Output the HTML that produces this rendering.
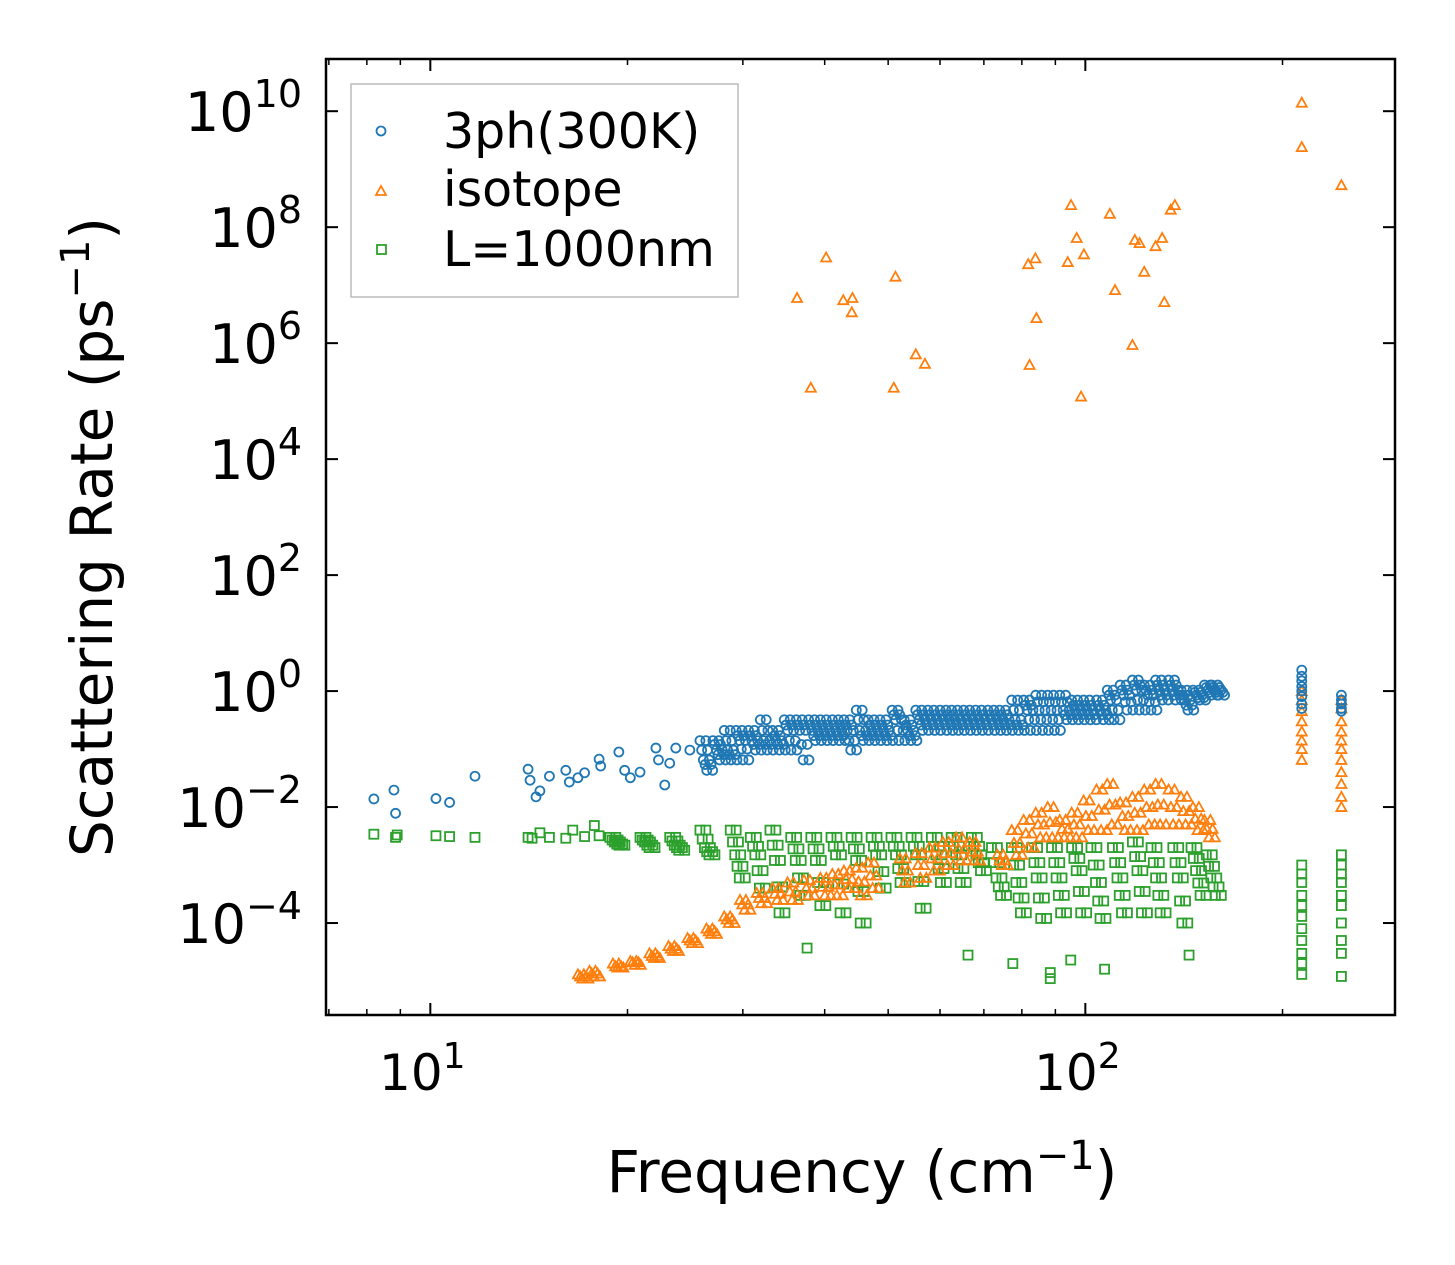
<!DOCTYPE html>
<html><head><meta charset="utf-8"><style>
body{margin:0;background:#fff;}
svg{display:block;font-family:"DejaVu Sans","Liberation Sans",sans-serif;}
</style></head><body>
<svg id="chart" width="1455" height="1265">
<g id="marks"></g>
<rect x="326" y="59" width="1069" height="956" fill="none" stroke="#000" stroke-width="2.5"/>
<g id="ticks"></g>
<text x="862" y="1192" font-size="58" text-anchor="middle">Frequency (cm<tspan dy="-23" font-size="40">−1</tspan><tspan dy="23">)</tspan></text>
<text transform="translate(112,537) rotate(-90)" font-size="58" text-anchor="middle">Scattering Rate (ps<tspan dy="-23" font-size="40">−1</tspan><tspan dy="23">)</tspan></text>
<g>
<rect x="351" y="84" width="387" height="213" fill="#fff" fill-opacity="0.8" stroke="#bbb" stroke-width="1.5"/>
<circle cx="381" cy="131" r="4.5" fill="none" stroke="#1f77b4" stroke-width="1.8"/>
<text x="443" y="148" font-size="49">3ph(300K)</text>
<path d="M376,195 L386,195 L381,186 Z" fill="none" stroke="#ff7f0e" stroke-width="1.8"/>
<text x="443" y="206" font-size="49">isotope</text>
<rect x="377" y="245" width="9" height="9" fill="none" stroke="#2ca02c" stroke-width="1.8"/>
<text x="443" y="266" font-size="49">L=1000nm</text>
</g>
</svg>
<script>
// ---- data ----
const blueSparseF=[8.2,8.8,8.85,10.2,10.7,11.7,14.1,14.2,14.5,14.7,15.2,16.1,16.3,16.8,17.2,18.1,18.2,19.4,19.8,20.2,20.9,22.1,22.3,22.8,23.2,23.7,24.9];
const blueSparseR=[0.0138,0.0196,0.0078,0.014,0.012,0.034,0.045,0.029,0.015,0.019,0.034,0.043,0.027,0.032,0.039,0.067,0.051,0.089,0.043,0.032,0.040,0.104,0.065,0.024,0.057,0.104,0.096];
const blueBandF=[25.8,27.0,28.1,29.3,30.6,31.9,33.3,34.7,36.2,37.8,39.4,41.1,42.8,44.7,46.6,48.6,50.7,52.9,55.1,57.5,60.0,62.5,65.2,68.0,71.0,74.0,77.2,80.5,84.0,87.6,91.4,95.3,99.4,104,108,113,118,123,128,134,140,146,152,156];
const blueTop=[0.14,0.14,0.21,0.21,0.21,0.32,0.21,0.32,0.32,0.32,0.32,0.32,0.32,0.47,0.32,0.32,0.47,0.32,0.47,0.47,0.47,0.47,0.47,0.47,0.47,0.47,0.70,0.70,0.85,0.85,0.85,0.70,0.70,0.70,1.04,1.27,1.55,1.27,1.55,1.55,1.04,1.04,1.27,1.27];
const blueQ1=[0.096,0.12,0.14,0.17,0.17,0.21,0.17,0.26,0.26,0.26,0.26,0.26,0.26,0.32,0.26,0.26,0.39,0.26,0.39,0.39,0.39,0.39,0.39,0.39,0.39,0.39,0.47,0.57,0.65,0.65,0.65,0.57,0.57,0.57,0.85,1.04,1.27,1.04,1.27,1.27,0.85,0.95,1.15,1.15];
const blueMid=[0.065,0.096,0.096,0.14,0.14,0.14,0.14,0.21,0.21,0.21,0.21,0.21,0.21,0.21,0.21,0.21,0.32,0.21,0.32,0.32,0.32,0.32,0.32,0.32,0.32,0.32,0.32,0.47,0.47,0.47,0.47,0.47,0.47,0.47,0.70,0.85,1.04,0.85,1.04,1.04,0.70,0.85,1.04,1.04];
const blueQ3=[0.054,0.08,0.08,0.10,0.12,0.12,0.12,0.14,0.12,0.17,0.17,0.17,0.14,0.17,0.17,0.17,0.21,0.17,0.26,0.26,0.26,0.26,0.26,0.26,0.26,0.26,0.26,0.32,0.32,0.32,0.39,0.39,0.39,0.39,0.47,0.65,0.70,0.65,0.85,0.85,0.57,0.77,0.95,0.95];
const blueBot=[0.043,0.065,0.065,0.065,0.096,0.096,0.096,0.096,0.065,0.14,0.14,0.14,0.096,0.14,0.14,0.14,0.14,0.14,0.21,0.21,0.21,0.21,0.21,0.21,0.21,0.21,0.21,0.21,0.21,0.21,0.32,0.32,0.32,0.32,0.32,0.47,0.47,0.47,0.70,0.70,0.47,0.70,0.85,0.85];
const blueC1F=214, blueC1R=[2.3,1.8,1.5,1.2,1.0,0.8,0.6,0.5];
const blueC2F=246, blueC2R=[0.85,0.7,0.6,0.5,0.45];

const orangeHighF=[36.3,38.1,40.2,42.7,44.1,44.0,51.3,51.0,55.1,56.9,81.8,83.9,82.2,84.2,94.0,95.1,97.0,99.5,98.5,109,111,118,119,121,123,128,131,132,135,137,214,214,246];
const orangeHighR=[6.0e6,1.7e5,3.0e7,5.5e6,6e6,3.4e6,1.4e7,1.7e5,6.4e5,4.4e5,2.3e7,2.9e7,4.2e5,2.7e6,2.5e7,2.4e8,6.5e7,3.4e7,1.2e5,1.7e8,8.2e6,9.3e5,6e7,5.3e7,1.7e7,4.7e7,6.5e7,5.1e6,2e8,2.4e8,1.4e10,2.4e9,5.3e8];
const orangeBandF=[16.8,17.5,19.0,20.2,21.6,23.1,24.7,26.4,28.1,29.7,31.5,33.3,35.1,37.2,39.4,41.1,42.8,44.7,46.6,52.1,55.1,57.8,60.6,63.5,66.6,73.4,77.2,80.5,84.0,87.6,91.4,95.3,99.4,104,108,113,118,123,128,134,140,146,152];
const orangeTop=[1.3e-5,1.5e-5,2.0e-5,2.2e-5,3.0e-5,4.0e-5,5.5e-5,8e-5,1.3e-4,2.5e-4,3.3e-4,4e-4,5e-4,5.5e-4,6e-4,7e-4,8e-4,9e-4,1.1e-3,1.3e-3,1.6e-3,2.0e-3,2.5e-3,3.0e-3,2.5e-3,1.5e-3,4e-3,6e-3,8e-3,1.0e-2,6e-3,8e-3,1.3e-2,2.0e-2,2.5e-2,1.2e-2,1.5e-2,2.0e-2,2.5e-2,2.0e-2,1.5e-2,1.0e-2,6e-3];
const orangeMid=[1.2e-5,1.35e-5,1.8e-5,2.1e-5,2.7e-5,3.6e-5,5e-5,7.2e-5,1.15e-4,2.1e-4,2.7e-4,3.2e-4,3.5e-4,4e-4,4.2e-4,4.6e-4,5.7e-4,5.2e-4,6.6e-4,8e-4,1e-3,1.3e-3,1.6e-3,1.9e-3,1.7e-3,1.2e-3,2.4e-3,3.5e-3,5e-3,5.5e-3,4.2e-3,5e-3,7e-3,9e-3,1.1e-2,7e-3,8e-3,1e-2,1.1e-2,1e-2,8.5e-3,6.3e-3,4.2e-3];
const orangeBot=[1.1e-5,1.2e-5,1.7e-5,1.9e-5,2.5e-5,3.3e-5,4.5e-5,6.5e-5,1.0e-4,1.7e-4,2.2e-4,2.5e-4,2.5e-4,3e-4,3e-4,3e-4,4e-4,3e-4,4e-4,5e-4,6e-4,8e-4,1.0e-3,1.2e-3,1.2e-3,1.0e-3,1.5e-3,2e-3,3e-3,3e-3,3e-3,3e-3,4e-3,4e-3,5e-3,4e-3,4e-3,5e-3,5e-3,5e-3,5e-3,4e-3,3e-3];
const orangeC1F=214, orangeC1R=[1.0,0.7,0.45,0.3,0.2,0.14,0.1,0.065];
const orangeC2F=246, orangeC2R=[0.7,0.5,0.3,0.2,0.14,0.1,0.065,0.04,0.025,0.015,0.01];

const greenSparseF=[8.2,8.85,8.9,10.2,10.7,11.7,14.1,14.3,14.7,15.2,16.1,16.5,17.2,17.8,18.1];
const greenSparseR=[3.4e-3,3e-3,3.3e-3,3.2e-3,3.1e-3,3.0e-3,3.0e-3,2.9e-3,3.6e-3,3.0e-3,2.9e-3,4e-3,3.1e-3,4.8e-3,3.2e-3];
const greenBandF=[18.8,20.9,23.2,25.8,28.7,30.8,33.0,35.5,38.1,40.9,43.9,47.1,50.5,54.2,58.2,62.4,67.0,71.9,77.1,82.8,88.8,95.3,102,110,118,126,136,145,153];
const greenTop=[3e-3,3e-3,3e-3,4e-3,4e-3,3e-3,4e-3,3e-3,3e-3,3e-3,3e-3,3e-3,3e-3,3e-3,3e-3,3e-3,3e-3,2e-3,2e-3,2e-3,2e-3,2e-3,2e-3,2e-3,2.5e-3,2e-3,2e-3,2e-3,1.5e-3];
const greenQ1=[2.7e-3,2.7e-3,2.6e-3,2.8e-3,2.5e-3,2.1e-3,2.2e-3,1.9e-3,1.9e-3,2.1e-3,1.9e-3,2.1e-3,2.1e-3,2.1e-3,2.1e-3,2.1e-3,2.1e-3,1.1e-3,1e-3,1.1e-3,1.1e-3,1.3e-3,1e-3,1.1e-3,1.4e-3,1.1e-3,1.1e-3,1.3e-3,9.5e-4];
const greenMid=[2.5e-3,2.5e-3,2.2e-3,2e-3,1.5e-3,1.5e-3,1.2e-3,1.2e-3,1.2e-3,1.5e-3,1.2e-3,1.5e-3,1.5e-3,1.5e-3,1.5e-3,1.5e-3,1.5e-3,6e-4,5e-4,6e-4,6e-4,8e-4,5e-4,6e-4,8e-4,6e-4,6e-4,8e-4,6e-4];
const greenQ3=[2.3e-3,2.2e-3,2e-3,1.7e-3,9.5e-4,8e-4,4.2e-4,6e-4,5e-4,4.7e-4,3.5e-4,7.7e-4,8.7e-4,5.2e-4,8.7e-4,8.7e-4,1.1e-3,4.2e-4,2.7e-4,2.7e-4,3e-4,3.5e-4,2.4e-4,3e-4,3.5e-4,3e-4,2.4e-4,4.9e-4,4.2e-4];
const greenBot=[2.2e-3,2e-3,1.8e-3,1.5e-3,6e-4,4e-4,1.5e-4,3e-4,2e-4,1.5e-4,1e-4,4e-4,5e-4,1.8e-4,5e-4,5e-4,8e-4,3e-4,1.5e-4,1.2e-4,1.5e-4,1.5e-4,1.2e-4,1.5e-4,1.5e-4,1.5e-4,1e-4,3e-4,3e-4];
const greenLowF=[37.6,66.2,77.5,88.4,88.4,95,107,144];
const greenLowR=[3.7e-5,2.8e-5,2.0e-5,1.1e-5,1.4e-5,2.3e-5,1.6e-5,2.8e-5];
const greenC1F=214, greenC1R=[1e-3,7e-4,5e-4,3e-4,2e-4,1.3e-4,8e-5,5e-5,3e-5,2e-5,1.3e-5];
const greenC2F=246, greenC2R=[1.5e-3,1e-3,7e-4,5e-4,3e-4,2e-4,1e-4,5e-5,3e-5,1.2e-5];

const yTickExp=[-4,-2,0,2,4,6,8,10];
const xMajor=[10,100];
const xMinor=[7,8,9,20,30,40,50,60,70,80,90,200];

// ---- axes ----
const X0=326,X1=1395,Y0=59,Y1=1015;
const xMin=Math.log10(6.93), xMax=Math.log10(297);
const yMin=-5.586, yMax=10.9;
const sx=f=>X0+(Math.log10(f)-xMin)/(xMax-xMin)*(X1-X0);
const sy=r=>Y1-(Math.log10(r)-yMin)/(yMax-yMin)*(Y1-Y0);
const NS='http://www.w3.org/2000/svg';
const marks=document.getElementById('marks');
const ticks=document.getElementById('ticks');
function mk(tag,attrs,parent){const e=document.createElementNS(NS,tag);for(const k in attrs)e.setAttribute(k,attrs[k]);parent.appendChild(e);return e;}
const C={blue:'#1f77b4',orange:'#ff7f0e',green:'#2ca02c'};
function circle(f,r){const e=mk('circle',{cx:sx(f),cy:sy(r),r:4.5,fill:'none',stroke:C.blue,'stroke-width':1.8},marks);

}
function tri(f,r){const x=sx(f),y=sy(r);const e=mk('path',{d:`M${x-5},${y+4} L${x+5},${y+4} L${x},${y-5} Z`,fill:'none',stroke:C.orange,'stroke-width':1.8},marks);

}
function sq(f,r){const e=mk('rect',{x:sx(f)-4.5,y:sy(r)-4.5,width:9,height:9,fill:'none',stroke:C.green,'stroke-width':1.8},marks);

}
const OFF=1.021;

// green
greenSparseF.forEach((f,i)=>sq(f,greenSparseR[i]));
greenBandF.forEach((f,i)=>{[greenTop,greenQ1,greenMid,greenQ3,greenBot].forEach((arr,k)=>{sq(f*Math.pow(1.008,k),arr[i]);sq(f*OFF*Math.pow(1.008,k),arr[i]);});});
greenLowF.forEach((f,i)=>sq(f,greenLowR[i]));
greenC1R.forEach(r=>sq(greenC1F,r));
greenC2R.forEach(r=>sq(greenC2F,r));
// orange
orangeHighF.forEach((f,i)=>tri(f,orangeHighR[i]));
orangeBandF.forEach((f,i)=>{[orangeTop,orangeMid,orangeBot].forEach((arr,k)=>{tri(f*Math.pow(1.008,k),arr[i]);tri(f*OFF*Math.pow(1.008,k),arr[i]);});});
orangeC1R.forEach(r=>tri(orangeC1F,r));
orangeC2R.forEach(r=>tri(orangeC2F,r));
// blue
blueSparseF.forEach((f,i)=>circle(f,blueSparseR[i]));
blueBandF.forEach((f,i)=>{[blueTop,blueQ1,blueMid,blueQ3,blueBot].forEach((arr,k)=>{circle(f*Math.pow(1.006,k),arr[i]);circle(f*OFF*Math.pow(1.006,k),arr[i]);});});
blueC1R.forEach(r=>circle(blueC1F,r));
blueC2R.forEach(r=>circle(blueC2F,r));

// ticks
yTickExp.forEach(e=>{const y=sy(Math.pow(10,e));
 const t1=mk('line',{x1:X0,x2:X0+12,y1:y,y2:y,stroke:'#000','stroke-width':2},ticks);
 
 
 const t2=mk('line',{x1:X1-12,x2:X1,y1:y,y2:y,stroke:'#000','stroke-width':2},ticks);
 
 
 const t=mk('text',{x:302,y:y+20,'font-size':54,'text-anchor':'end'},ticks);
 
 
 const s=String(e).replace('-','−');
 t.innerHTML=`10<tspan dy="-24" font-size="38">${s}</tspan>`;
});
xMajor.forEach(v=>{const x=sx(v);
 const a=mk('line',{x1:x,x2:x,y1:Y1,y2:Y1-12,stroke:'#000','stroke-width':2},ticks);
 
 
 const b=mk('line',{x1:x,x2:x,y1:Y0,y2:Y0+12,stroke:'#000','stroke-width':2},ticks);
 
 
 const t=mk('text',{x:x-8,y:1090,'font-size':50,'text-anchor':'middle'},ticks);
 
 
 t.innerHTML=`10<tspan dy="-22" font-size="36">${Math.round(Math.log10(v))}</tspan>`;
});
xMinor.forEach(v=>{const x=sx(v); if(x<X0||x>X1) return;
 const a=mk('line',{x1:x,x2:x,y1:Y1,y2:Y1-6,stroke:'#000','stroke-width':1.5},ticks);
 
 
 const b=mk('line',{x1:x,x2:x,y1:Y0,y2:Y0+6,stroke:'#000','stroke-width':1.5},ticks);
 
 
});
</script>
</body></html>
